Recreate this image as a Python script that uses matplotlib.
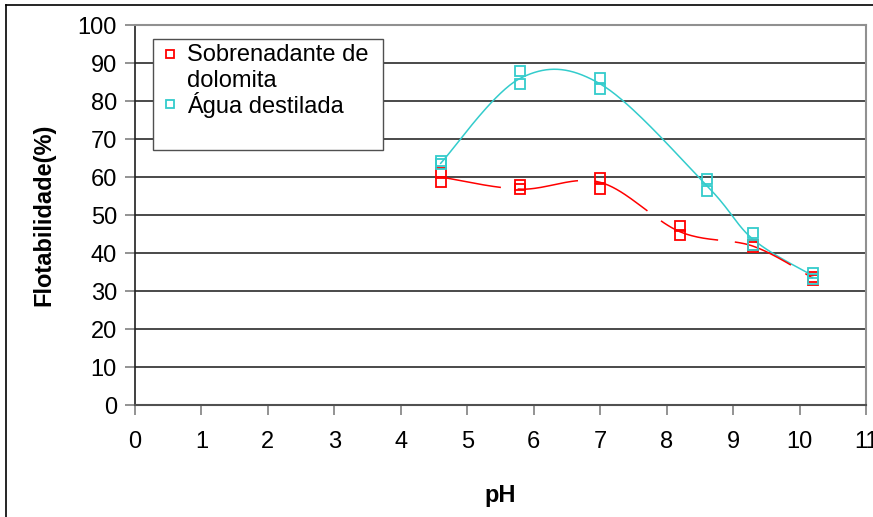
import numpy as np
import matplotlib
matplotlib.use("Agg")
import matplotlib.pyplot as plt
from matplotlib.lines import Line2D
from matplotlib.patches import Rectangle

plt.rcParams['font.family'] = ['Liberation Sans', 'DejaVu Sans']

# ---- data ----
ph_sob = [4.6, 4.6, 5.8, 5.8, 7.0, 7.0, 8.2, 8.2, 9.3, 9.3, 10.2, 10.2]
flot_sob = [61.1, 58.8, 57.9, 56.8, 59.8, 56.8, 47.1, 44.7, 42.0, 41.5, 33.8, 33.0]
ph_agua = [4.6, 4.6, 5.8, 5.8, 7.0, 7.0, 8.6, 8.6, 9.3, 9.3, 10.2, 10.2]
flot_agua = [64.2, 63.4, 87.9, 84.4, 86.0, 83.1, 59.4, 56.3, 45.2, 42.1, 34.8, 33.1]

# smoothed trend lines (points the curves pass through)
curve_ph_sob = [4.6, 5.8, 7.0, 8.2, 9.3, 10.2]
curve_sob = [60.0, 56.8, 58.6, 45.6, 41.8, 33.4]
curve_ph_agua = [4.6, 5.8, 7.0, 8.6, 9.3, 10.2]
curve_agua = [63.6, 86.0, 84.5, 57.8, 43.6, 34.0]

labels = ["Sobrenadante de\ndolomita", "Água destilada"]
xticks = list(range(0, 12))
yticks = list(range(0, 101, 10))

RED = '#ff0000'
CYAN = '#33cccc'
FS = 17


def smooth(xs, ys, n=40):
    """Excel-like smoothed line: Bezier segments with Catmull-Rom control points."""
    P = np.column_stack([xs, ys]).astype(float)
    out = [P[0]]
    m = len(P)
    for i in range(m - 1):
        p0 = P[i - 1] if i > 0 else P[i]
        p1 = P[i]
        p2 = P[i + 1]
        p3 = P[i + 2] if i + 2 < m else P[i + 1]
        c1 = p1 + (p2 - p0) / 6.0
        c2 = p2 - (p3 - p1) / 6.0
        t = np.linspace(0, 1, n)[1:, None]
        seg = ((1 - t) ** 3) * p1 + 3 * ((1 - t) ** 2) * t * c1 + 3 * (1 - t) * t ** 2 * c2 + t ** 3 * p2
        out.extend(seg)
    out = np.array(out)
    return out[:, 0], out[:, 1]


W, H = 873, 517
fig = plt.figure(figsize=(W / 100, H / 100), dpi=100)
L, R, T, B = 135, 866, 25, 405
ax = fig.add_axes([L / W, 1 - B / H, (R - L) / W, (B - T) / H])

ax.set_xlim(0, 11)
ax.set_ylim(0, 100)
ax.set_xticks(xticks)
ax.set_yticks(yticks)
ax.tick_params(axis='both', labelsize=FS, colors='#808080', labelcolor='black',
               length=7, width=1.2, direction='out')
ax.tick_params(axis='x', pad=12)
ax.tick_params(axis='y', pad=6)

for y in yticks[1:]:
    ax.axhline(y, color='#3a3a3a', lw=1.3, zorder=1)

for s in ['top', 'right']:
    ax.spines[s].set_color('#909090')
    ax.spines[s].set_linewidth(1.5)
ax.spines['left'].set_color('#202020')
ax.spines['left'].set_linewidth(1.2)
ax.spines['bottom'].set_color('#505050')
ax.spines['bottom'].set_linewidth(1.5)

# curves
xs, ys = smooth(curve_ph_agua, curve_agua)
ax.plot(xs, ys, color=CYAN, lw=1.1, zorder=2)
xs, ys = smooth(curve_ph_sob, curve_sob)
ax.plot(xs, ys, color=RED, lw=1.1, dashes=(40, 11), zorder=2)

# points
ax.plot(ph_sob, flot_sob, ls='none', marker='s', ms=7, mfc='none', mec=RED, mew=1.3, zorder=3)
ax.plot(ph_agua, flot_agua, ls='none', marker='s', ms=7, mfc='none', mec=CYAN, mew=1.3, zorder=3)

ax.set_xlabel('pH', fontsize=FS, fontweight='bold', labelpad=22)
ax.set_ylabel('Flotabilidade(%)', fontsize=FS, fontweight='bold', labelpad=16)

# legend box (manual, in figure pixel coordinates)
def fx(px):
    return px / W

def fy(py):
    return 1 - py / H

fig.add_artist(Rectangle((fx(153), fy(150)), fx(383) - fx(153), fy(39) - fy(150),
                         transform=fig.transFigure, facecolor='white',
                         edgecolor='#505050', lw=1.0, zorder=5))
fig.add_artist(Line2D([fx(170)], [fy(54)], transform=fig.transFigure, marker='s', ms=6,
                      mfc='none', mec=RED, mew=1.3, ls='none', zorder=6))
fig.add_artist(Line2D([fx(170)], [fy(104)], transform=fig.transFigure, marker='s', ms=6,
                      mfc='none', mec=CYAN, mew=1.3, ls='none', zorder=6))
fig.text(fx(187), fy(55), labels[0].split("\n")[0], fontsize=FS, va='center', ha='left', zorder=6)
fig.text(fx(187), fy(81), labels[0].split("\n")[1], fontsize=FS, va='center', ha='left', zorder=6)
fig.text(fx(187), fy(105), labels[1], fontsize=FS, va='center', ha='left', zorder=6)

# outer chart border (left and top visible)
fig.add_artist(Line2D([fx(6), fx(6)], [fy(5), 0], transform=fig.transFigure, color='black', lw=1.2))
fig.add_artist(Line2D([fx(6), 1], [fy(5), fy(5)], transform=fig.transFigure, color='black', lw=1.2))

fig.savefig('out.png', dpi=100)
